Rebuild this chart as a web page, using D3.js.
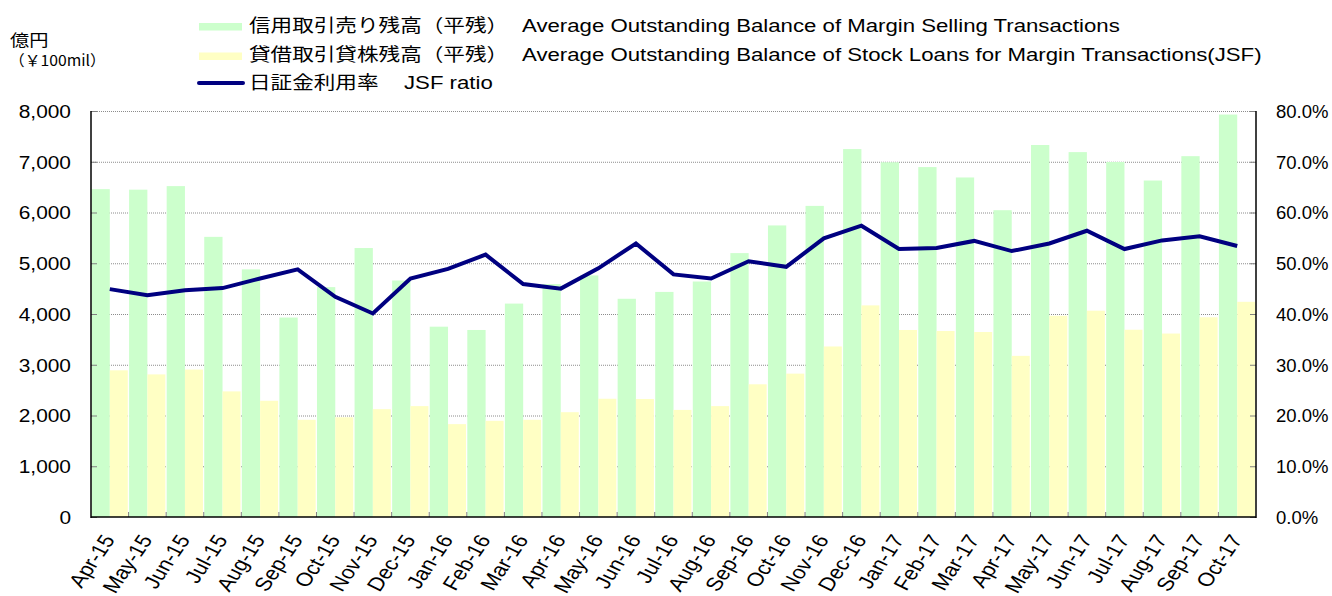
<!DOCTYPE html>
<html><head><meta charset="utf-8">
<script src="https://cdn.jsdelivr.net/npm/d3@7"></script>
<style>
html,body{margin:0;padding:0;background:#fff;}
svg{display:block;}
text{font-family:"Liberation Sans",Arial,sans-serif;fill:#000;}
.cjk{font-family:"Noto Sans CJK JP",sans-serif;}
</style></head>
<body>
<script>
const months = ["Apr-15","May-15","Jun-15","Jul-15","Aug-15","Sep-15","Oct-15","Nov-15","Dec-15","Jan-16","Feb-16","Mar-16","Apr-16","May-16","Jun-16","Jul-16","Aug-16","Sep-16","Oct-16","Nov-16","Dec-16","Jan-17","Feb-17","Mar-17","Apr-17","May-17","Jun-17","Jul-17","Aug-17","Sep-17","Oct-17"];
const marginSelling = [6460,6450,6520,5520,4880,3930,4530,5300,4660,3750,3685,4205,4590,4760,4300,4435,4640,5200,5745,6130,7250,6990,6895,6690,6045,7330,7190,6995,6630,7110,7930];
const stockLoans = [2890,2810,2905,2475,2290,1915,1965,2125,2185,1830,1895,1915,2065,2330,2325,2110,2185,2615,2825,3360,4170,3685,3665,3645,3175,3965,4065,3690,3615,3935,4240];
const jsfRatio = [44.9,43.7,44.7,45.1,47.0,48.8,43.4,40.1,47.0,48.9,51.7,45.9,45.0,49.0,53.9,47.8,47.0,50.4,49.3,54.9,57.4,52.8,53.0,54.4,52.4,53.9,56.4,52.8,54.5,55.3,53.4];
const leftTicks = [0,1000,2000,3000,4000,5000,6000,7000,8000];
const rightTicks = [0,10,20,30,40,50,60,70,80];
const legendJa = ["信用取引売り残高（平残）","貸借取引貸株残高（平残）","日証金利用率"];
const legendEn = ["Average Outstanding Balance of Margin Selling Transactions","Average Outstanding Balance of Stock Loans for Margin Transactions(JSF)","JSF ratio"];
const unitJa = "億円";
const unitEn = "（￥100mil）";

const W=1332,H=596;
const L=91,R=1256,T=111,B=517;
const SX=1.2; // horizontal stretch of the reference's text
const GREEN="#CCFFCC", YELLOW="#FFFFC4", NAVY="#000080";

const svg=d3.select("body").append("svg").attr("width",W).attr("height",H);

const x=d3.scaleBand().domain(months).range([L,R]).paddingInner(0).paddingOuter(0);
const yL=d3.scaleLinear().domain([0,8000]).range([B,T]);
const yR=d3.scaleLinear().domain([0,80]).range([B,T]);
const step=x.bandwidth();

// gridlines
svg.append("g").selectAll("line").data(leftTicks.filter(d=>d>0)).join("line")
  .attr("x1",L).attr("x2",R).attr("y1",d=>yL(d)+0.5).attr("y2",d=>yL(d)+0.5)
  .attr("stroke","#8c8c8c").attr("stroke-width",1).attr("stroke-dasharray","1,1");

// bars
svg.append("g").selectAll("rect").data(marginSelling).join("rect")
  .attr("x",(d,i)=>x(months[i])+0.5).attr("width",step/2-0.5)
  .attr("y",d=>yL(d)).attr("height",d=>B-yL(d)).attr("fill",GREEN);
svg.append("g").selectAll("rect").data(stockLoans).join("rect")
  .attr("x",(d,i)=>x(months[i])+step/2).attr("width",step/2-0.8)
  .attr("y",d=>yL(d)).attr("height",d=>B-yL(d)).attr("fill",YELLOW);

// left axis
const axL=d3.axisLeft(yL).tickValues(leftTicks).tickSize(-6).tickFormat(d3.format(","));
const gL=svg.append("g").attr("transform",`translate(${L},0)`).call(axL);
gL.select(".domain").remove();
gL.selectAll(".tick line").attr("stroke","#808080");
gL.selectAll("text").attr("font-size",18.5).attr("x",0).attr("dy","0.35em")
  .attr("transform",`translate(-20,0) scale(1.13,1)`).attr("text-anchor","end")
  .attr("font-family","Liberation Sans, Arial, sans-serif");

// right axis
const axR=d3.axisRight(yR).tickValues(rightTicks).tickSize(-6).tickFormat(d=>d.toFixed(1)+"%");
const gR=svg.append("g").attr("transform",`translate(${R},0)`).call(axR);
gR.select(".domain").remove();
gR.selectAll(".tick line").attr("stroke","#808080");
gR.selectAll("text").attr("font-size",18.5).attr("x",0).attr("dy","0.35em")
  .attr("transform",`translate(20,0)`).attr("text-anchor","start")
  .attr("font-family","Liberation Sans, Arial, sans-serif");

// x-axis category boundary ticks
svg.append("g").selectAll("line").data(months.slice(1)).join("line")
  .attr("x1",d=>x(d)).attr("x2",d=>x(d)).attr("y1",B).attr("y2",B-5)
  .attr("stroke","#808080");

// axis lines
svg.append("line").attr("x1",L).attr("x2",L).attr("y1",T).attr("y2",B+1).attr("stroke","#000").attr("stroke-width",1.5);
svg.append("line").attr("x1",R).attr("x2",R).attr("y1",T).attr("y2",B+1).attr("stroke","#000").attr("stroke-width",1.5);
svg.append("line").attr("x1",L).attr("x2",R).attr("y1",B).attr("y2",B).attr("stroke","#000").attr("stroke-width",1.5);

// x labels
svg.append("g").selectAll("text").data(months).join("text")
  .attr("transform",d=>`translate(${x(d)+step/2-8},${B+16}) scale(${SX},1) rotate(-60)`)
  .attr("text-anchor","end").attr("dy","0.7em").attr("font-size",19).text(d=>d);

// line
const line=d3.line().x((d,i)=>x(months[i])+step/2).y(d=>yR(d));
svg.append("path").datum(jsfRatio).attr("d",line).attr("fill","none")
  .attr("stroke",NAVY).attr("stroke-width",4).attr("stroke-linejoin","miter");

// unit label
svg.append("text").attr("class","cjk").attr("transform",`translate(10,46) scale(1.2,1)`).attr("font-size",16).text(unitJa);
svg.append("text").attr("class","cjk").attr("transform",`translate(9,66) scale(1.05,1)`).attr("font-size",15).text(unitEn);

// legend
const rows=[25,53.5,82];
svg.append("rect").attr("x",199).attr("y",rows[0]-2).attr("width",43).attr("height",7.5).attr("fill",GREEN);
svg.append("rect").attr("x",199).attr("y",rows[1]-1).attr("width",43).attr("height",7.5).attr("fill",YELLOW);
svg.append("line").attr("x1",199).attr("x2",243).attr("y1",rows[2]+1).attr("y2",rows[2]+1).attr("stroke",NAVY).attr("stroke-width",4).attr("stroke-linecap","round");
const enX=[522,522,404];
legendJa.forEach((t,i)=>{
  svg.append("text").attr("class","cjk").attr("transform",`translate(249,${rows[i]+7}) scale(${SX},1)`)
    .attr("font-size",18).text(t);
  svg.append("text").attr("transform",`translate(${enX[i]},${rows[i]+7}) scale(${SX},1)`)
    .attr("font-size",18.5).text(legendEn[i]);
});
</script>
</body></html>
